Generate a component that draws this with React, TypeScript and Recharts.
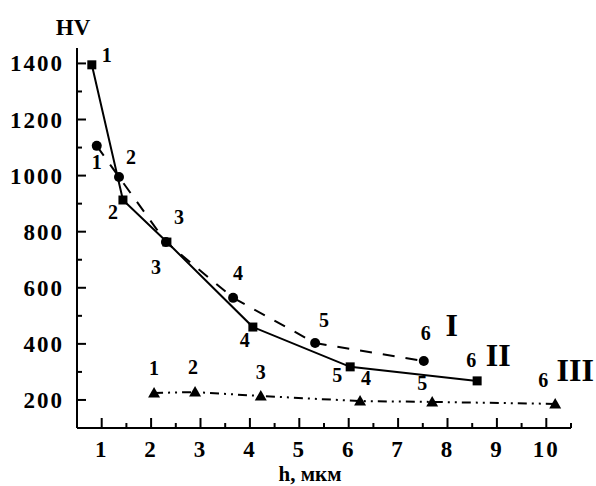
import { LineChart, Line, XAxis, YAxis, LabelList } from 'recharts';

// point numbers written next to each marker
const pointNumbers = ['1', '2', '3', '4', '5', '6'];
const seriesNames = ['I', 'II', 'III'];

// series I (circles, dashed)
const hI = [0.9, 1.35, 2.3, 3.66, 5.32, 7.52];
const hvI = [1106, 995, 763, 564, 403, 339];
// series II (squares, solid)
const hII = [0.8, 1.43, 2.32, 4.06, 6.03, 8.6];
const hvII = [1395, 913, 763, 460, 318, 268];
// series III (triangles, dash-dot-dot)
const hIII = [2.06, 2.89, 4.22, 6.23, 7.69, 10.18];
const hvIII = [225, 228, 214, 196, 193, 186];

const xTickLabels = [1, 2, 3, 4, 5, 6, 7, 8, 9, 10];
const yTickLabels = [200, 400, 600, 800, 1000, 1200, 1400];

const rows = (h: number[], hv: number[]) => h.map((x, i) => ({ h: x, hv: hv[i], n: pointNumbers[i] }));
const dataI = rows(hI, hvI);
const dataII = rows(hII, hvII);
const dataIII = rows(hIII, hvIII);

const xTicks = [...xTickLabels.flatMap((v) => [v, v + 0.5])];
const yTicks = [...yTickLabels.flatMap((v) => [v - 100, v]).filter((v) => v > 100)];

const font = '"Liberation Serif", "Times New Roman", serif';

// label offsets from marker, [dx, dy]
const offI = [[0, 16], [12, -20], [13, -25], [5, -25], [9, -23], [2, -28]];
const offII = [[15, -10], [-10, 12], [-11, 25], [-8, 13], [-13, 8], [-6, -21]];
const offIII = [[0, -25], [-2, -25], [0, -24], [6, -23], [-10, -19], [-12, -24]];
const nameOff = [[28, -36], [21, -26], [20, -34]];

const Square = (p: any) => <rect x={p.cx - 4.5} y={p.cy - 4.5} width={9} height={9} fill="#000" />;
const Circle = (p: any) => <circle cx={p.cx} cy={p.cy} r={5} fill="#000" />;
const Triangle = (p: any) => (
  <path d={`M${p.cx},${p.cy - 6} L${p.cx + 6},${p.cy + 4.5} L${p.cx - 6},${p.cy + 4.5} Z`} fill="#000" />
);

const makeLabel = (offs: number[][], sIdx: number) => (props: any) => {
  const { x, y, index, value } = props;
  const [dx, dy] = offs[index];
  const last = index === pointNumbers.length - 1;
  return (
    <g>
      <text x={x + dx} y={y + dy} textAnchor="middle" dominantBaseline="central"
        fontFamily={font} fontWeight="bold" fontSize={20} fill="#000">{value}</text>
      {last && (
        <text x={x + nameOff[sIdx][0]} y={y + nameOff[sIdx][1]} textAnchor="middle" dominantBaseline="central"
          fontFamily={font} fontWeight="bold" fontSize={32} fill="#000">{seriesNames[sIdx]}</text>
      )}
    </g>
  );
};

const XTick = (p: any) => {
  const v = p.payload.value;
  const major = Number.isInteger(v);
  return (
    <g>
      <line x1={p.x} x2={p.x} y1={p.y} y2={p.y - (major ? 10 : 5)} stroke="#000" strokeWidth={2} />
      {major && (
        <text x={p.x} y={p.y + 29} textAnchor="middle" fontFamily={font} fontWeight="bold"
          fontSize={23} letterSpacing={2} fill="#000">{v}</text>
      )}
    </g>
  );
};

const YTick = (p: any) => {
  const v = p.payload.value;
  const major = v % 200 === 0;
  return (
    <g>
      <line x1={p.x} x2={p.x + (major ? 9 : 5)} y1={p.y} y2={p.y} stroke="#000" strokeWidth={2} />
      {major && (
        <text x={p.x - 13} y={p.y + 8} textAnchor="end" fontFamily={font} fontWeight="bold"
          fontSize={23} letterSpacing={2} fill="#000">{v}</text>
      )}
    </g>
  );
};

const HvTitle = () => (
  <text x={73} y={35} textAnchor="middle" fontFamily={font} fontWeight="bold" fontSize={23} fill="#000">HV</text>
);
const HTitle = () => (
  <text x={310} y={481} textAnchor="middle" fontFamily={font} fontWeight="bold" fontSize={21} fill="#000">h, мкм</text>
);

export default function App() {
  return (
    <div style={{ position: 'absolute', left: 0, top: 0, width: 596, height: 486, background: '#fff' }}>
      <LineChart width={596} height={486} margin={{ top: 48, right: 25, left: 0, bottom: 0 }}>
        <XAxis
          type="number"
          dataKey="h"
          domain={[0.5, 10.5]}
          ticks={xTicks}
          interval={0}
          height={58}
          tickSize={0}
          tickMargin={0}
          tickLine={false}
          axisLine={{ stroke: '#000', strokeWidth: 2 }}
          tick={<XTick />}
          label={{ content: () => <HTitle /> }}
        />
        <YAxis
          type="number"
          dataKey="hv"
          domain={[100, 1455]}
          ticks={yTicks}
          interval={0}
          width={77}
          tickSize={0}
          tickMargin={0}
          tickLine={false}
          axisLine={{ stroke: '#000', strokeWidth: 2 }}
          tick={<YTick />}
          label={{ content: () => <HvTitle /> }}
        />
        <Line data={dataI} dataKey="hv" type="linear" stroke="#000" strokeWidth={2} strokeDasharray="12 11"
          dot={<Circle />} activeDot={false} isAnimationActive={false}>
          <LabelList dataKey="n" content={makeLabel(offI, 0)} />
        </Line>
        <Line data={dataII} dataKey="hv" type="linear" stroke="#000" strokeWidth={2}
          dot={<Square />} activeDot={false} isAnimationActive={false}>
          <LabelList dataKey="n" content={makeLabel(offII, 1)} />
        </Line>
        <Line data={dataIII} dataKey="hv" type="linear" stroke="#000" strokeWidth={2} strokeDasharray="9 5 2 5 2 5"
          dot={<Triangle />} activeDot={false} isAnimationActive={false}>
          <LabelList dataKey="n" content={makeLabel(offIII, 2)} />
        </Line>
      </LineChart>
    </div>
  );
}
